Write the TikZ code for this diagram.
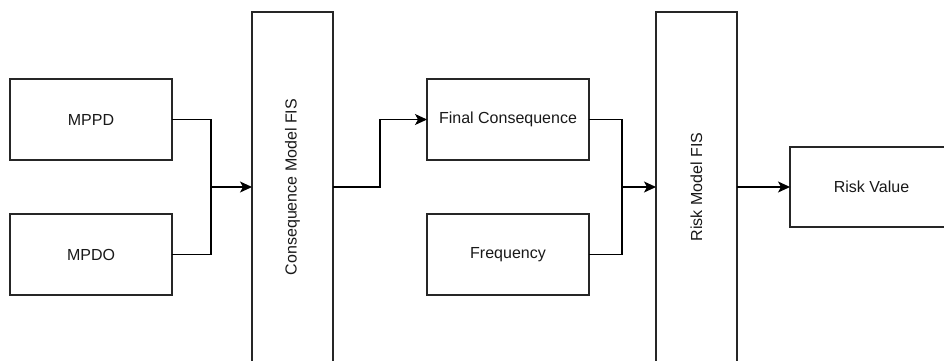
\documentclass[tikz,border=0pt]{standalone}
\usepackage{fontspec}
\setmainfont{Liberation Sans}
\usetikzlibrary{arrows.meta}
\begin{document}
\begin{tikzpicture}[x=1pt,y=1pt,
  box/.style={draw=black!85, line width=1.1pt, fill=white, inner sep=0pt, outer sep=0pt,
    font=\fontsize{16}{19}\selectfont, text=black!90},
  link/.style={draw=black, line width=1.1pt},
  arr/.style={link, -{Stealth[length=12pt,width=11pt,inset=3pt]}}]
\useasboundingbox (0,0) rectangle (944,-361);
\clip (0,0) rectangle (944,-361);

% inputs of the consequence stage
\node[box, minimum width=162, minimum height=81] (mppd) at (91,-119.5) {MPPD};
\node[box, minimum width=162, minimum height=81] (mpdo) at (91,-254.5) {MPDO};

% tall inference blocks
\node[box, minimum width=81, minimum height=350] (cfis) at (292.5,-187)
  {\rotatebox{90}{Consequence Model FIS}};
\node[box, minimum width=81, minimum height=350] (rfis) at (696.5,-187)
  {\rotatebox{90}{Risk Model FIS}};

% inputs of the risk stage
\node[box, minimum width=162, minimum height=81] (fc) at (508,-119.5) {Final Consequence};
\node[box, minimum width=162, minimum height=81] (freq) at (508,-254.5) {Frequency};

% output
\node[box, minimum width=163, minimum height=80] (rv) at (871.5,-187) {Risk Value};

% junction and bend points
\coordinate (j1) at (211,-187);
\coordinate (b1) at (380,-187);
\coordinate (j2) at (622,-187);

\draw[link] (mppd.east) -| (j1);
\draw[link] (mpdo.east) -| (j1);
\draw[arr] (j1) -- (cfis.west);

\draw[arr] (cfis.east) -- (b1) |- (fc.west);

\draw[link] (fc.east) -| (j2);
\draw[link] (freq.east) -| (j2);
\draw[arr] (j2) -- (rfis.west);

\draw[arr] (rfis.east) -- (rv.west);
\end{tikzpicture}
\end{document}
